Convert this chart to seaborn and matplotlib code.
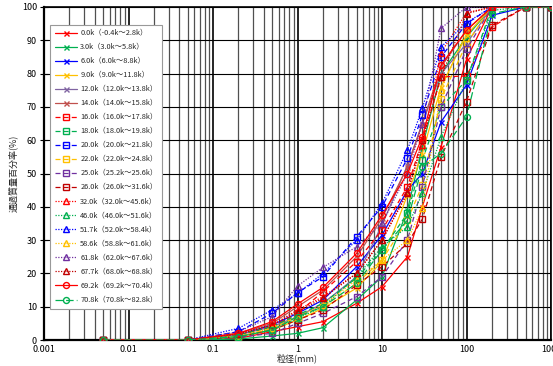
import numpy as np
import pandas as pd
import matplotlib
matplotlib.use("Agg")
import matplotlib.pyplot as plt
import matplotlib.ticker as mticker
import seaborn as sns

# ---------------- data ----------------
sizes = [0.005, 0.05, 0.2, 0.5, 1, 2, 5, 10, 20, 30, 50, 100, 200, 500, 1000]

labels = [
    "0.0k（-0.4k～2.8k）", "3.0k（3.0k～5.8k）", "6.0k（6.0k～8.8k）",
    "9.0k（9.0k～11.8k）", "12.0k（12.0k～13.8k）", "14.0k（14.0k～15.8k）",
    "16.0k（16.0k～17.8k）", "18.0k（18.0k～19.8k）", "20.0k（20.0k～21.8k）",
    "22.0k（22.0k～24.8k）", "25.0k（25.2k～25.6k）", "26.0k（26.0k～31.6k）",
    "32.0k（32.0k～45.6k）", "46.0k（46.0k～51.6k）", "51.7k（52.0k～58.4k）",
    "58.6k（58.8k～61.6k）", "61.8k（62.0k～67.6k）", "67.7k（68.0k～68.8k）",
    "69.2k（69.2k～70.4k）", "70.8k（70.8k～82.8k）",
]

s_0_0  = [0, 0, 0.5, 2.5, 4.0, 5.5, 11.0, 16.0, 25.0, 40.0, 58.0, 84.3, 100, 100, 100]
s_3_0  = [0, 0, 0.3, 1.2, 2.0, 3.7, 12.0, 19.0, 39.0, 58.0, 80.0, 91.0, 100, 100, 100]
s_6_0  = [0, 0, 1.5, 4.5, 8.0, 12.0, 22.0, 31.5, 45.0, 50.0, 65.5, 76.6, 97.5, 100, 100]
s_9_0  = [0, 0, 1.0, 3.0, 6.0, 9.5, 15.6, 23.5, 43.5, 56.0, 76.0, 91.6, 100, 100, 100]
s_12_0 = [0, 0, 1.5, 4.0, 7.0, 11.0, 19.0, 34.5, 52.5, 65.0, 80.0, 89.0, 100, 100, 100]
s_14_0 = [0, 0, 2.0, 5.0, 10.0, 15.0, 25.0, 36.6, 52.0, 65.0, 82.0, 93.0, 100, 100, 100]
s_16_0 = [0, 0, 1.5, 4.0, 8.0, 14.5, 23.5, 33.0, 46.0, 60.0, 79.0, 79.3, 94.0, 100, 100]
s_18_0 = [0, 0, 1.5, 4.0, 7.5, 11.0, 18.6, 27.0, 38.0, 54.0, 70.0, 78.0, 100, 100, 100]
s_20_0 = [0, 0, 2.5, 8.0, 14.2, 19.0, 31.0, 40.0, 54.6, 67.5, 85.0, 95.0, 100, 100, 100]
s_22_0 = [0, 0, 1.0, 3.5, 7.0, 10.0, 17.0, 24.0, 36.0, 46.5, 72.5, 89.0, 100, 100, 100]
s_25_0 = [0, 0, 0.8, 2.0, 5.0, 8.0, 13.0, 19.0, 30.0, 46.0, 70.0, 87.3, 100, 100, 100]
s_26_0 = [0, 0, 1.0, 3.0, 6.0, 9.0, 16.5, 22.0, 29.0, 36.3, 55.0, 71.6, 94.5, 100, 100]
s_32_0 = [0, 0, 1.8, 4.5, 9.0, 13.0, 20.0, 30.0, 44.5, 58.5, 86.3, 98.3, 100, 100, 100]
s_46_0 = [0, 0, 1.0, 3.0, 6.5, 10.0, 19.0, 28.0, 34.0, 44.0, 61.0, 78.0, 99.0, 100, 100]
s_51_7 = [0, 0, 3.5, 9.0, 14.0, 20.0, 30.0, 41.0, 57.0, 69.6, 88.0, 95.3, 100, 100, 100]
s_58_6 = [0, 0, 1.2, 3.5, 7.0, 10.5, 18.0, 24.0, 30.0, 39.6, 75.0, 93.0, 100, 100, 100]
s_61_8 = [0, 0, 2.5, 7.0, 16.2, 21.8, 28.0, 35.0, 50.0, 65.0, 93.6, 100, 100, 100, 100]
s_67_7 = [0, 0, 1.8, 4.5, 8.5, 12.5, 20.0, 30.0, 44.0, 60.0, 79.0, 98.0, 100, 100, 100]
s_69_2 = [0, 0, 2.0, 5.5, 10.8, 15.8, 26.0, 37.5, 50.0, 61.0, 82.6, 93.0, 100, 100, 100]
s_70_8 = [0, 0, 1.0, 3.0, 7.0, 10.0, 17.0, 27.0, 36.0, 52.0, 56.0, 67.0, 98.0, 100, 100]

series = [s_0_0, s_3_0, s_6_0, s_9_0, s_12_0, s_14_0, s_16_0, s_18_0, s_20_0,
          s_22_0, s_25_0, s_26_0, s_32_0, s_46_0, s_51_7, s_58_6, s_61_8,
          s_67_7, s_69_2, s_70_8]

x_tick_values = [0.001, 0.01, 0.1, 1, 10, 100, 1000]
x_tick_labels = ["0.001", "0.01", "0.1", "1", "10", "100", "1000"]
y_ticks = list(range(0, 101, 10))

# ---------------- styles ----------------
colors = ["#FF0000", "#00B050", "#0000FF", "#FFC000", "#8064A2", "#C0504D",
          "#FF0000", "#00B050", "#0000FF", "#FFC000", "#7030A0", "#C00000",
          "#FF0000", "#00B050", "#0000FF", "#FFC000", "#7030A0", "#C00000",
          "#FF0000", "#00B050"]
markers = ["x"] * 6 + ["s"] * 6 + ["^"] * 6 + ["o"] * 2
lstyles = (["-"] * 6 + [(0, (4, 2.5))] * 6 + [(0, (1, 1.2))] * 6
           + ["-", (0, (6, 2.5))])

sns.set_theme(style="white")
plt.rcParams["font.family"] = ["Noto Sans CJK JP", "DejaVu Sans"]

fig = plt.figure(figsize=(5.53, 3.66), dpi=100)
ax = fig.add_axes([44 / 553, 26 / 366, 507 / 553, 333 / 366])

for lab, vals, c, m, ls in zip(labels, series, colors, markers, lstyles):
    df = pd.DataFrame({"size": sizes, "pct": vals})
    filled = m == "x"
    sns.lineplot(data=df, x="size", y="pct", ax=ax, color=c, linestyle=ls,
                 linewidth=0.9, marker=m, markersize=4.3 if m != "x" else 3.6,
                 markerfacecolor=c if filled else "none",
                 markeredgecolor=c, markeredgewidth=1.0,
                 label=lab, zorder=3, sort=False, errorbar=None)

ax.set_xscale("log")
ax.set_xlim(0.001, 1000)
ax.set_ylim(0, 100)
ax.xaxis.set_major_locator(mticker.FixedLocator(x_tick_values))
ax.xaxis.set_major_formatter(mticker.FixedFormatter(x_tick_labels))
ax.xaxis.set_minor_locator(mticker.LogLocator(base=10, subs=np.arange(2, 10), numticks=50))
ax.xaxis.set_minor_formatter(mticker.NullFormatter())
ax.set_yticks(y_ticks)

ax.grid(which="major", axis="x", color="black", linewidth=1.2, zorder=1)
ax.grid(which="minor", axis="x", color="#505050", linewidth=0.9, zorder=1)
ax.grid(which="major", axis="y", color="black", linewidth=0.8, zorder=1)
ax.set_axisbelow(True)

for sp in ax.spines.values():
    sp.set_color("black")
    sp.set_linewidth(1.2)
ax.spines["left"].set_linewidth(1.6)
ax.spines["bottom"].set_linewidth(1.6)

ax.tick_params(axis="y", which="major", direction="inout", length=6, width=0.8,
               left=True, labelsize=6.5, pad=2, colors="black")
ax.tick_params(axis="x", which="both", length=0, labelsize=6.5, pad=3.5, colors="black")

ax.set_xlabel("粒径(mm)", fontsize=6.5, labelpad=0)
ax.set_ylabel("通過質量百分率(%)", fontsize=6.5, labelpad=3)

leg = ax.legend(loc="upper left", bbox_to_anchor=(0.012, 0.946), borderaxespad=0,
                fontsize=5.3, labelspacing=0.82, handlelength=3.0,
                handletextpad=0.5, borderpad=0.6, frameon=True, fancybox=False,
                framealpha=1, edgecolor="#999999")
leg.get_frame().set_linewidth(0.8)

fig.savefig("out.png", dpi=100)
